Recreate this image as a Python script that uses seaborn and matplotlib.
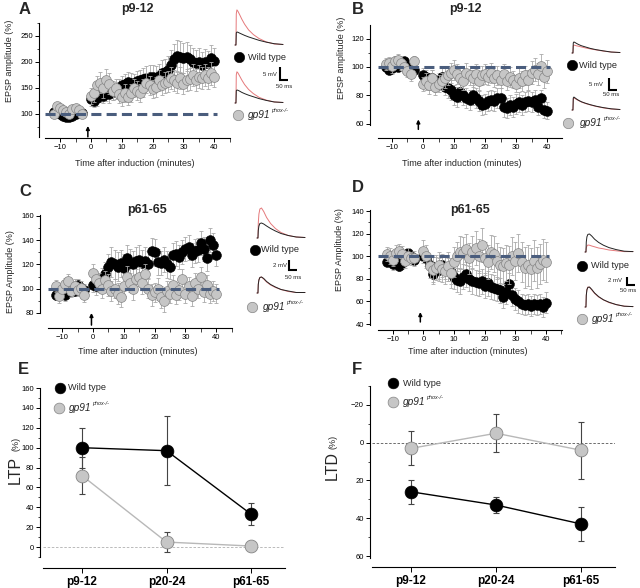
import matplotlib
matplotlib.use("Agg")
import matplotlib.pyplot as plt
import seaborn as sns
from matplotlib.ticker import FixedLocator

W, H = 640, 588

# ---------------- data ----------------
TIME = [-12, -11, -10, -9, -8, -7, -6, -5, -4, -3,
        0, 1, 2, 3, 4, 5, 6, 7, 8, 9, 10, 11, 12, 13, 14, 15, 16, 17, 18, 19, 20,
        21, 22, 23, 24, 25, 26, 27, 28, 29, 30, 31, 32, 33, 34, 35, 36, 37, 38, 39, 40]

# A: LTP p9-12
A_WT = [103, 104, 100, 97, 95, 94, 96, 100, 103, 102,
        128, 125, 130, 138, 135, 140, 138, 142, 145, 150, 155, 158, 162, 160, 158, 163, 165, 168, 170, 172,
        172, 170, 173, 178, 180, 185, 195, 205, 212, 210, 208, 210, 205, 200, 198, 200, 195, 200, 198, 208, 202]
A_WT_ERR = [5, 6, 5, 4, 5, 6, 5, 6, 5, 4,
            12, 12, 14, 15, 14, 15, 16, 15, 16, 17, 18, 18, 19, 18, 18, 20, 20, 21, 22, 22,
            22, 23, 24, 25, 26, 27, 28, 30, 30, 30, 29, 28, 28, 27, 26, 26, 25, 25, 24, 24, 25]
A_GP = [100, 115, 112, 108, 103, 100, 110, 112, 108, 100,
        135, 140, 155, 160, 150, 165, 158, 145, 150, 138, 132, 140, 133, 140, 150, 145, 140, 150, 160, 155,
        148, 152, 165, 155, 160, 162, 170, 165, 160, 170, 158, 165, 168, 175, 165, 172, 170, 175, 170, 178, 172]
A_GP_ERR = [6, 7, 6, 6, 5, 6, 7, 6, 6, 5,
            15, 16, 18, 20, 20, 22, 20, 18, 18, 16, 16, 17, 16, 17, 18, 18, 17, 18, 19, 19,
            18, 19, 20, 19, 20, 20, 21, 20, 20, 21, 20, 21, 21, 22, 21, 22, 21, 22, 21, 22, 21]

# B: LTD p9-12
B_WT = [100, 98, 99, 102, 100, 103, 104, 101, 100, 98,
        94, 93, 90, 92, 88, 90, 93, 86, 85, 84, 80, 79, 82, 80, 78, 77, 80, 78, 76, 73,
        74, 76, 77, 76, 78, 78, 72, 71, 73, 72, 74, 75, 73, 75, 76, 75, 77, 72, 78, 70, 69]
B_WT_ERR = [3, 3, 4, 3, 3, 4, 3, 3, 4, 3,
            5, 5, 6, 6, 6, 6, 6, 6, 7, 7, 7, 7, 7, 7, 7, 7, 7, 7, 7, 7,
            7, 7, 7, 7, 7, 7, 7, 7, 7, 7, 7, 7, 7, 7, 7, 7, 7, 6, 6, 6, 6]
B_GP = [102, 103, 101, 104, 105, 103, 100, 97, 95, 104,
        88, 90, 87, 92, 86, 88, 90, 92, 94, 96, 98, 95, 92, 90, 96, 94, 92, 95, 90, 94,
        95, 93, 96, 92, 94, 91, 95, 90, 93, 91, 88, 92, 90, 94, 91, 96, 98, 95, 101, 93, 97]
B_GP_ERR = [4, 4, 5, 4, 4, 5, 4, 4, 5, 4,
            5, 6, 6, 6, 6, 6, 6, 7, 7, 7, 7, 7, 7, 6, 7, 7, 6, 7, 6, 7,
            7, 6, 7, 6, 7, 6, 7, 6, 7, 6, 6, 7, 7, 7, 7, 8, 8, 8, 8, 8, 8]

# C: LTP p61-65
C_WT = [95, 98, 96, 95, 97, 100, 98, 103, 101, 99,
        103, 102, 105, 108, 112, 118, 122, 120, 118, 121, 117, 125, 121, 120, 123, 124, 121, 123, 120, 131,
        130, 122, 121, 124, 120, 118, 128, 129, 126, 130, 133, 134, 128, 131, 132, 138, 133, 125, 140, 136, 128]
C_WT_ERR = [4, 5, 4, 5, 4, 5, 4, 5, 4, 5,
            6, 7, 8, 9, 10, 11, 12, 12, 12, 11, 12, 11, 12, 11, 11, 12, 11, 11, 11, 11,
            11, 11, 10, 10, 11, 10, 10, 10, 10, 10, 10, 10, 10, 10, 10, 10, 10, 10, 10, 10, 9]
C_GP = [102, 94, 100, 104, 106, 98, 102, 99, 101, 95,
        113, 108, 105, 100, 107, 103, 98, 100, 96, 93, 102, 110, 105, 100, 108, 110, 105, 112, 100, 95,
        97, 100, 93, 90, 98, 96, 103, 95, 99, 108, 96, 102, 94, 105, 100, 110, 97, 103, 96, 98, 96]
C_GP_ERR = [5, 6, 5, 5, 6, 5, 6, 5, 5, 6,
            7, 7, 8, 8, 8, 9, 8, 8, 9, 8, 8, 9, 8, 9, 8, 8, 9, 8, 8, 9,
            8, 9, 9, 9, 8, 8, 8, 8, 8, 8, 8, 8, 8, 8, 8, 8, 8, 8, 8, 8, 8]

# D: LTD p61-65
D_WT = [95, 98, 93, 97, 91, 94, 99, 103, 100, 97,
        100, 98, 92, 84, 90, 88, 92, 90, 88, 86, 82, 79, 78, 82, 84, 80, 78, 77, 76, 78,
        74, 76, 73, 72, 71, 70, 64, 68, 75, 66, 62, 60, 58, 57, 58, 56, 58, 57, 58, 55, 59]
D_WT_ERR = [4, 4, 5, 4, 4, 5, 4, 4, 5, 4,
            6, 7, 8, 9, 9, 10, 10, 10, 10, 11, 11, 11, 11, 11, 11, 11, 11, 11, 11, 11,
            11, 11, 11, 11, 11, 11, 10, 10, 10, 10, 10, 10, 9, 9, 9, 9, 9, 9, 9, 9, 9]
D_GP = [102, 100, 97, 103, 105, 102, 96, 100, 98, 98,
        105, 100, 91, 88, 90, 92, 89, 87, 91, 85, 95, 100, 104, 103, 106, 98, 104, 107, 100, 110,
        98, 95, 104, 102, 96, 92, 91, 94, 92, 100, 96, 103, 95, 90, 92, 89, 96, 90, 93, 97, 95]
D_GP_ERR = [6, 7, 6, 7, 6, 7, 6, 7, 6, 7,
            9, 10, 10, 11, 11, 12, 12, 12, 13, 13, 13, 13, 14, 14, 14, 14, 14, 15, 15, 15,
            15, 15, 15, 16, 16, 16, 16, 16, 17, 17, 17, 17, 18, 18, 18, 18, 18, 18, 18, 18, 18]

# E / F summary
AGES = ["p9-12", "p20-24", "p61-65"]
LTP_WT = [100, 97, 33]
LTP_WT_ERR = [20, 35, 11]
LTP_GP = [72, 5, 1]
LTP_GP_ERR = [19, 10, 5]
LTD_WT = [26, 33, 43]
LTD_WT_ERR = [6.5, 4, 9]
LTD_GP = [3, -5, 4]
LTD_GP_ERR = [9, 10, 15]

# example EPSP traces (ms, mV); black = before, red = after induction
TRACE_MS = [0, 6, 8, 12, 18, 28, 42, 60, 85, 115, 150, 195, 245, 300]
A_TR_WT_PRE = [0, 0, 4.6, 5.0, 4.9, 4.6, 4.2, 3.7, 3.1, 2.5, 1.8, 1.1, 0.5, 0.2]
A_TR_WT_POST = [0, 0, 12.0, 13.5, 13.0, 11.8, 10.0, 8.0, 5.8, 4.0, 2.5, 1.2, 0.4, 0.2]
A_TR_GP_PRE = [0, 0, 4.7, 5.0, 4.9, 4.6, 4.1, 3.6, 3.0, 2.4, 1.7, 1.0, 0.4, 0.2]
A_TR_GP_POST = [0, 0, 10.8, 12.0, 11.6, 10.5, 8.9, 7.1, 5.2, 3.6, 2.2, 1.1, 0.4, 0.2]
B_TR_WT_PRE = [0, 0, 4.2, 4.6, 4.4, 4.0, 3.5, 3.0, 2.5, 1.9, 1.4, 0.9, 0.4, 0.2]
B_TR_WT_POST = [0, 0, 3.0, 3.3, 3.2, 3.0, 2.8, 2.5, 2.1, 1.7, 1.3, 0.8, 0.4, 0.2]
B_TR_GP_PRE = [0, 0, 5.0, 5.4, 5.1, 4.6, 4.0, 3.4, 2.8, 2.2, 1.6, 1.0, 0.5, 0.2]
B_TR_GP_POST = [0, 0, 4.6, 5.0, 4.8, 4.4, 3.9, 3.3, 2.7, 2.1, 1.5, 0.9, 0.4, 0.2]
C_TR_WT_PRE = [0, 0, 1.5, 2.4, 2.9, 3.0, 2.8, 2.4, 1.9, 1.4, 0.9, 0.5, 0.2, 0.1]
C_TR_WT_POST = [0, 0, 3.0, 4.8, 5.8, 6.0, 5.3, 4.1, 2.9, 1.9, 1.1, 0.5, 0.2, 0.1]
C_TR_GP_PRE = [0, 0, 1.7, 2.6, 3.1, 3.2, 2.9, 2.3, 1.7, 1.2, 0.7, 0.4, 0.1, 0.1]
C_TR_GP_POST = [0, 0, 1.8, 2.7, 3.1, 3.2, 2.8, 2.2, 1.6, 1.1, 0.7, 0.3, 0.1, 0.1]
D_TR_WT_PRE = [0, 0, 2.5, 3.8, 4.4, 4.5, 4.0, 3.2, 2.4, 1.7, 1.1, 0.6, 0.2, 0.1]
D_TR_WT_POST = [0, 0, 1.0, 1.5, 1.75, 1.7, 1.5, 1.3, 1.0, 0.8, 0.5, 0.3, 0.1, 0.1]
D_TR_GP_PRE = [0, 0, 2.9, 4.3, 4.9, 5.0, 4.4, 3.5, 2.6, 1.8, 1.2, 0.6, 0.2, 0.1]
D_TR_GP_POST = [0, 0, 3.0, 4.4, 5.0, 4.9, 4.3, 3.4, 2.5, 1.8, 1.1, 0.6, 0.2, 0.1]

GREY_FACE = "#c6c6c6"
GREY_EDGE = "#858585"
ERR_GREY = "#a9a9a9"
BLUE = "#4a5d7d"
TRACE_RED = "#e5797b"

sns.set_theme(style="ticks")
plt.rcParams["font.family"] = ["Liberation Sans", "DejaVu Sans"]
plt.rcParams["axes.linewidth"] = 0.8


def px_axes(fig, x0, y0, x1, y1, **kw):
    """Axes placed by a pixel box, origin top-left."""
    return fig.add_axes([x0 / W, 1 - y1 / H, (x1 - x0) / W, (y1 - y0) / H], **kw)


def ticks_within(lo, hi, step):
    start = int(lo // step) * step
    vals = []
    v = start
    while v <= hi + 1e-9:
        if v >= lo - 1e-9:
            vals.append(v)
        v += step
    return vals


def style_axes(ax, gap, bounds, ymajor, yminor):
    sns.despine(ax=ax)
    ax.set_facecolor("none")
    lo, hi = bounds
    ax.spines["left"].set_position(("outward", gap * 0.72))
    ax.spines["left"].set_bounds(lo, hi)
    for s in ("left", "bottom"):
        ax.spines[s].set_color("black")
        ax.spines[s].set_linewidth(0.8)
    major = ticks_within(lo, hi, ymajor)
    ax.yaxis.set_major_locator(FixedLocator(major))
    ax.yaxis.set_minor_locator(FixedLocator([v for v in ticks_within(lo, hi, yminor) if v not in major]))
    ax.tick_params(which="major", length=3, width=0.7, labelsize=5.5, pad=1.5, colors="black")
    ax.tick_params(which="minor", length=1.8, width=0.6)
    ax.grid(False)


def time_panel(fig, box, xlim, ylim, gap, bounds, ymajor, yminor, wt, wt_err, gp, gp_err, arrow):
    ax = px_axes(fig, *box)
    ax.errorbar(TIME, wt, yerr=wt_err, fmt="none", ecolor=ERR_GREY, elinewidth=0.6,
                capsize=1.3, capthick=0.6, zorder=1)
    sns.scatterplot(x=TIME, y=wt, ax=ax, s=50, color="black", edgecolor="black",
                    linewidth=0.4, zorder=2)
    ax.errorbar(TIME, gp, yerr=gp_err, fmt="none", ecolor=ERR_GREY, elinewidth=0.6,
                capsize=1.3, capthick=0.6, zorder=3)
    sns.scatterplot(x=TIME, y=gp, ax=ax, s=50, color=GREY_FACE, edgecolor=GREY_EDGE,
                    linewidth=0.5, zorder=4)
    ax.hlines(100, xlim[0], 41, color=BLUE, lw=2.2, linestyles=[(0, (3.3, 1.7))], zorder=5)
    t, tail, tip = arrow
    ax.annotate("", xy=(t, tip), xytext=(t, tail),
                arrowprops=dict(arrowstyle="-|>", color="black", lw=1.1, mutation_scale=5,
                                shrinkA=0, shrinkB=0))
    ax.set_xlim(*xlim)
    ax.set_ylim(*ylim)
    style_axes(ax, gap, bounds, ymajor, yminor)
    ax.xaxis.set_major_locator(FixedLocator([-10, 0, 10, 20, 30, 40]))
    ax.xaxis.set_minor_locator(FixedLocator([-15, -5, 5, 15, 25, 35, 45]))
    ax.tick_params(axis="x", which="minor", length=3)
    return ax


def trace_inset(fig, box, x0, b1, b2, pmv, traces, bar, bar_mv, mv_lab, ms_lab):
    """Example traces; box in pixels, scaled so 50 ms = 8 px and pmv px per mV."""
    ppms = 0.16
    ax = px_axes(fig, *box)
    ax.set_xlim((box[0] - x0) / ppms, (box[2] - x0) / ppms)
    ax.set_ylim((b1 - box[3]) / pmv, (b1 - box[1]) / pmv)
    ax.axis("off")
    off = (b2 - b1) / pmv
    wt_pre, wt_post, gp_pre, gp_post = traces
    ax.plot(TRACE_MS, wt_post, color=TRACE_RED, lw=0.7)
    ax.plot(TRACE_MS, wt_pre, color="#222222", lw=0.7)
    ax.plot(TRACE_MS, [v - off for v in gp_post], color=TRACE_RED, lw=0.7)
    ax.plot(TRACE_MS, [v - off for v in gp_pre], color="#222222", lw=0.7)
    bx, by = (bar[0] - x0) / ppms, (b1 - bar[1]) / pmv
    ax.plot([bx, bx, bx + 50], [by + bar_mv, by, by], color="black", lw=1.5,
            solid_joinstyle="miter", solid_capstyle="butt")
    ax.text((mv_lab[0] - x0) / ppms, (b1 - mv_lab[1]) / pmv, f"{bar_mv} mV",
            ha="right", va="center", fontsize=4.3)
    ax.text((ms_lab[0] - x0) / ppms, (b1 - ms_lab[1]) / pmv, "50 ms",
            ha="center", va="center", fontsize=4.3)


fig = plt.figure(figsize=(6.4, 5.88), dpi=100)

# time-course panels
time_panel(fig, (45, 23, 230, 138), (-14.9, 45.1), (53.8, 275), 6, (56, 275), 50, 25,
           A_WT, A_WT_ERR, A_GP, A_GP_ERR, (-1, 56, 77))
time_panel(fig, (378, 25, 562, 138), (-14.5, 44.8), (49.9, 129.6), 8, (59, 129.6), 20, 10,
           B_WT, B_WT_ERR, B_GP, B_GP_ERR, (-1.5, 56, 63))
time_panel(fig, (48, 215, 232, 328), (-14.6, 45.1), (67.6, 160.8), 8, (80, 160.8), 20, 10,
           C_WT, C_WT_ERR, C_GP, C_GP_ERR, (-0.5, 70, 80))
time_panel(fig, (378, 210, 562, 330), (-14.8, 45.2), (34.7, 140.9), 8, (39, 140.9), 20, 10,
           D_WT, D_WT_ERR, D_GP, D_GP_ERR, (-1, 41.8, 50.6))

# example traces
trace_inset(fig, (232, 4, 300, 108), 235, 45, 103, 2.6,
            (A_TR_WT_PRE, A_TR_WT_POST, A_TR_GP_PRE, A_TR_GP_POST),
            (280, 80), 5, (277, 75), (284, 86))
trace_inset(fig, (568, 36, 636, 114), 572, 53, 110, 2.4,
            (B_TR_WT_PRE, B_TR_WT_POST, B_TR_GP_PRE, B_TR_GP_POST),
            (609, 90), 5, (603, 85), (611, 95))
trace_inset(fig, (254, 203, 310, 297), 257, 238, 293, 5.0,
            (C_TR_WT_PRE, C_TR_WT_POST, C_TR_GP_PRE, C_TR_GP_POST),
            (289, 270), 2, (287, 266), (293, 278))
trace_inset(fig, (582, 228, 640, 311), 585, 252, 307, 4.0,
            (D_TR_WT_PRE, D_TR_WT_POST, D_TR_GP_PRE, D_TR_GP_POST),
            (627, 285), 2, (622, 280), (628, 291))

# summary panels E and F
X = [0, 1, 2]
for box, ylim, gap, bounds, wt, wt_err, gp, gp_err, zero_col in [
    ((43, 388, 285, 568), (-21.1, 160.1), 3, (-10, 160), LTP_WT, LTP_WT_ERR, LTP_GP, LTP_GP_ERR,
     "#b0b0b0"),
    ((372, 386, 615, 567), (65.8, -30), 2, (-30, 61), LTD_WT, LTD_WT_ERR, LTD_GP, LTD_GP_ERR,
     "#555555"),
]:
    ax = px_axes(fig, *box)
    ax.axhline(0, color=zero_col, lw=0.6, ls=(0, (3, 2)), zorder=0)
    sns.lineplot(x=X, y=wt, ax=ax, color="black", lw=1.0, zorder=1)
    ax.errorbar(X, wt, yerr=wt_err, fmt="none", ecolor="#444444", elinewidth=0.8,
                capsize=2.5, capthick=0.8, zorder=2)
    sns.scatterplot(x=X, y=wt, ax=ax, s=85, color="black", edgecolor="black", linewidth=0.5, zorder=3)
    sns.lineplot(x=X, y=gp, ax=ax, color="#b8b8b8", lw=1.0, zorder=4)
    ax.errorbar(X, gp, yerr=gp_err, fmt="none", ecolor="#444444", elinewidth=0.8,
                capsize=2.5, capthick=0.8, zorder=5)
    sns.scatterplot(x=X, y=gp, ax=ax, s=85, color=GREY_FACE, edgecolor=GREY_EDGE,
                    linewidth=0.6, zorder=6)
    ax.set_xlim(-0.46, 2.4)
    ax.set_ylim(*ylim)
    style_axes(ax, gap, bounds, 20, 10)
    ax.set_xticks(X)
    ax.set_xticklabels(AGES, fontsize=8.5, fontweight="bold")
    ax.tick_params(axis="x", length=3.5, pad=2)
    ax.set_xlabel("")
    ax.set_ylabel("")

# overlay for labels and legends, pixel coordinates
ov = fig.add_axes([0, 0, 1, 1], zorder=10)
ov.set_xlim(0, W)
ov.set_ylim(H, 0)
ov.axis("off")
ov.set_facecolor("none")

for lab, x, y in [("A", 25, 9), ("B", 358, 9), ("C", 25, 192), ("D", 358, 188),
                  ("E", 23, 370), ("F", 357, 370)]:
    ov.text(x, y, lab, fontsize=12, fontweight="bold", ha="center", va="center")

for lab, x, y in [("p9-12", 137, 9), ("p9-12", 465, 9), ("p61-65", 147, 210), ("p61-65", 470, 210)]:
    ov.text(x, y, lab, fontsize=9, fontweight="bold", ha="center", va="center")

for lab, x, y in [("EPSP amplitude (%)", 10, 61), ("EPSP amplitude (%)", 341, 58),
                  ("EPSP Amplitude (%)", 11, 272), ("EPSP Amplitude (%)", 340, 250)]:
    ov.text(x, y, lab, fontsize=6.5, rotation=90, ha="center", va="center")

for x, y in [(135, 163), (462, 163), (138, 352), (468, 352)]:
    ov.text(x, y, "Time after induction (minutes)", fontsize=6.5, ha="center", va="center")

ov.text(15, 470, "LTP", fontsize=11.5, rotation=90, ha="center", va="center")
ov.text(16, 444, "(%)", fontsize=6.5, rotation=90, ha="center", va="center")
ov.text(332, 466, "LTD", fontsize=11.5, rotation=90, ha="center", va="center")
ov.text(333, 442, "(%)", fontsize=6.5, rotation=90, ha="center", va="center")


def legend_pair(wt_xy, wt_tx, gp_xy, gp_tx, size=56):
    ov.scatter([wt_xy[0]], [wt_xy[1]], s=size, color="black", edgecolor="black", linewidth=0.4)
    ov.text(wt_tx, wt_xy[1], "Wild type", fontsize=6.6, ha="left", va="center")
    ov.scatter([gp_xy[0]], [gp_xy[1]], s=size, color=GREY_FACE, edgecolor=GREY_EDGE, linewidth=0.5)
    t = ov.text(gp_tx, gp_xy[1], "gp91", fontsize=7.3, style="italic", ha="left", va="center")
    ov.annotate("phox-/-", xy=(1, 0.72), xycoords=t, xytext=(0.8, 0), textcoords="offset points",
                fontsize=4, style="italic", ha="left", va="bottom")


legend_pair((239, 57), 248, (238, 115), 248)
legend_pair((572, 65), 579, (568, 123), 580)
legend_pair((255, 250), 261, (252, 307), 263)
legend_pair((582, 266), 591, (582, 319), 592)
legend_pair((60, 388), 68, (59, 408), 69, size=60)
legend_pair((393, 383), 403, (393, 402), 403, size=60)

fig.savefig("out.png", dpi=100)
